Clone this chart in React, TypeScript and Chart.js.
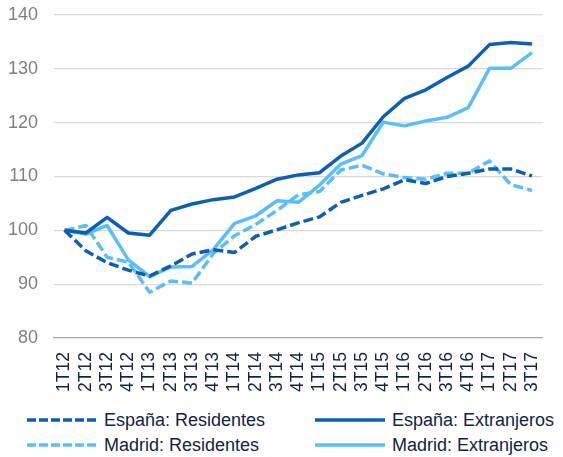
import React, { useEffect, useRef } from 'react';
import { Chart, registerables } from 'chart.js';

Chart.register(...registerables);

const categories = [
  '1T12', '2T12', '3T12', '4T12', '1T13', '2T13', '3T13', '4T13', '1T14', '2T14', '3T14', '4T14',
  '1T15', '2T15', '3T15', '4T15', '1T16', '2T16', '3T16', '4T16', '1T17', '2T17', '3T17',
];

const espanaResidentes = [
  100, 96.2, 94.0, 92.6, 91.5, 93.4, 95.6, 96.4, 95.9, 98.9, 100.1, 101.4,
  102.5, 105.2, 106.5, 107.7, 109.4, 108.7, 110.0, 110.6, 111.4, 111.4, 110.1,
];
const espanaExtranjeros = [
  100, 99.5, 102.4, 99.5, 99.1, 103.7, 104.9, 105.7, 106.2, 107.8, 109.5, 110.3,
  110.7, 113.8, 116.2, 121.1, 124.5, 126.1, 128.4, 130.5, 134.5, 134.9, 134.6,
];
const madridResidentes = [
  100, 100.9, 95.0, 94.1, 88.5, 90.6, 90.2, 95.7, 99.0, 101.1, 103.7, 106.6,
  107.2, 111.2, 112.1, 110.5, 109.8, 109.5, 110.6, 110.6, 112.9, 108.5, 107.4,
];
const madridExtranjeros = [
  100, 99.3, 100.9, 94.5, 91.4, 93.2, 93.3, 96.4, 101.3, 102.7, 105.5, 105.2,
  108.4, 112.3, 113.9, 120.1, 119.4, 120.3, 121.0, 122.8, 130.1, 130.1, 133.0,
];

const seriesNames = [
  'España: Residentes',
  'España: Extranjeros',
  'Madrid: Residentes',
  'Madrid: Extranjeros',
];

const yMin = 80;
const yMax = 140;
const yStep = 10;

const DARK = '#0e5fad';
const LIGHT = '#5bbef7';
const FONT = '"Liberation Sans", Arial, sans-serif';

const legendItems = [
  { label: seriesNames[0], color: DARK, dashed: true, left: 27, top: 408 },
  { label: seriesNames[1], color: DARK, dashed: false, left: 315, top: 408 },
  { label: seriesNames[2], color: LIGHT, dashed: true, left: 27, top: 433 },
  { label: seriesNames[3], color: LIGHT, dashed: false, left: 315, top: 433 },
];

export default function App() {
  const canvasRef = useRef<HTMLCanvasElement | null>(null);

  useEffect(() => {
    if (!canvasRef.current) return;
    const mk = (label: string, data: number[], color: string, dashed: boolean) => ({
      label,
      data,
      borderColor: color,
      backgroundColor: color,
      borderWidth: 3.5,
      borderDash: dashed ? [10, 4] : [],
      borderCapStyle: 'butt' as const,
      borderJoinStyle: 'round' as const,
      pointRadius: 0,
      pointHoverRadius: 0,
      tension: 0,
      fill: false,
    });
    const chart = new Chart(canvasRef.current, {
      type: 'line',
      data: {
        labels: categories,
        datasets: [
          mk(seriesNames[0], espanaResidentes, DARK, true),
          mk(seriesNames[1], espanaExtranjeros, DARK, false),
          mk(seriesNames[2], madridResidentes, LIGHT, true),
          mk(seriesNames[3], madridExtranjeros, LIGHT, false),
        ],
      },
      options: {
        responsive: false,
        animation: false,
        devicePixelRatio: 1,
        layout: { padding: { top: 15, left: 0, right: 0, bottom: 0 } },
        plugins: {
          legend: { display: false },
          tooltip: { enabled: false },
        },
        scales: {
          x: {
            offset: true,
            grid: { display: false, drawTicks: false },
            border: { display: true, color: '#a6a6a6', width: 1.3 },
            ticks: {
              autoSkip: false,
              maxRotation: 90,
              minRotation: 90,
              padding: 14,
              color: '#14233f',
              font: { family: FONT, size: 17.5 },
            },
            afterFit: (scale: any) => {
              scale.height = 62;
            },
          },
          y: {
            min: yMin,
            max: yMax,
            grid: {
              color: (ctx: any) => (ctx.tick && ctx.tick.value === yMin ? 'rgba(0,0,0,0)' : '#d9d9d9'),
              lineWidth: 1.3,
              drawTicks: false,
            },
            border: { display: false },
            ticks: {
              stepSize: yStep,
              padding: 16,
              color: '#808080',
              font: { family: FONT, size: 18 },
            },
            afterFit: (scale: any) => {
              scale.width = 54;
              scale.paddingTop = 0;
              scale.paddingBottom = 0;
            },
          },
        },
      },
    });
    return () => chart.destroy();
  }, []);

  return (
    <div
      style={{
        position: 'absolute',
        left: 0,
        top: 0,
        width: 563,
        height: 457,
        overflow: 'hidden',
        background: '#ffffff',
        fontFamily: FONT,
      }}
    >
      <canvas ref={canvasRef} width={567} height={400} style={{ display: 'block', width: 567, height: 400 }} />
      {legendItems.map((it) => (
        <div
          key={it.label}
          style={{
            position: 'absolute',
            left: it.left,
            top: it.top,
            height: 24,
            display: 'flex',
            alignItems: 'center',
            whiteSpace: 'nowrap',
          }}
        >
          <svg width={70} height={6} style={{ display: 'block' }}>
            <line
              x1={0}
              y1={3}
              x2={70}
              y2={3}
              stroke={it.color}
              strokeWidth={3.5}
              strokeDasharray={it.dashed ? '9 3' : undefined}
            />
          </svg>
          <span style={{ marginLeft: 7, fontSize: 18, color: '#14233f', lineHeight: '24px' }}>{it.label}</span>
        </div>
      ))}
    </div>
  );
}
